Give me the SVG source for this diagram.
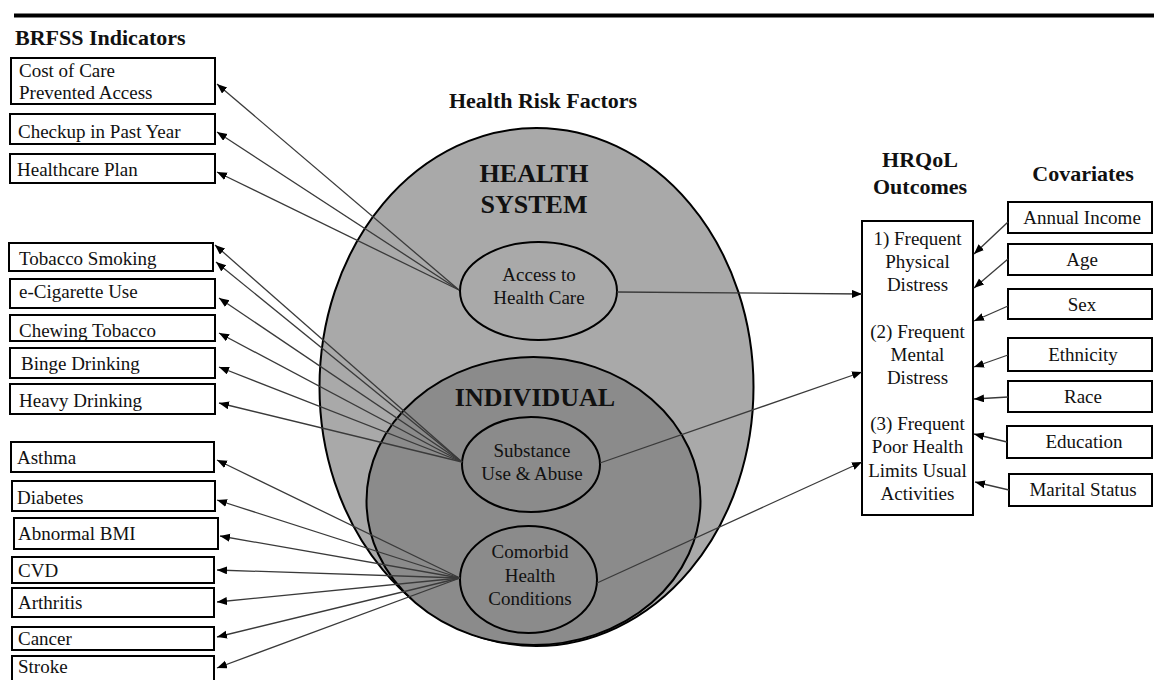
<svg xmlns="http://www.w3.org/2000/svg" width="1154" height="680" viewBox="0 0 1154 680" font-family="'Liberation Serif', 'DejaVu Serif', 'Times New Roman', serif">
<style>
.bx{fill:#fff;stroke:#000;stroke-width:2}
.t{font-family:'Liberation Serif','DejaVu Serif','Times New Roman',serif;font-size:19px;fill:#111}
.c{text-anchor:middle}
.h{font-family:'Liberation Serif','DejaVu Serif','Times New Roman',serif;font-size:22px;font-weight:bold;fill:#111}
.big{font-family:'Liberation Serif','DejaVu Serif','Times New Roman',serif;font-size:26px;font-weight:bold;fill:#111;text-anchor:middle}
.cn{fill:none;stroke:#3a3a3a;stroke-width:1.3;marker-end:url(#ah)}
.el{fill:none;stroke:#000;stroke-width:2}
</style>
<defs>
<marker id="ah" markerUnits="userSpaceOnUse" markerWidth="11" markerHeight="9" refX="10" refY="4" orient="auto">
<path d="M0,0 L10,4 L0,8 z" fill="#000"/>
</marker>
</defs>
<rect width="1154" height="680" fill="#fff"/>
<line x1="14" y1="15.5" x2="1154" y2="15.5" stroke="#000" stroke-width="4"/>
<text class="h" x="15" y="45">BRFSS Indicators</text>
<text class="h c" x="543" y="108">Health Risk Factors</text>
<text class="h c" x="920" y="167">HRQoL</text>
<text class="h c" x="920" y="194">Outcomes</text>
<text class="h c" x="1083" y="181">Covariates</text>

<g id="health-system">
<ellipse cx="536.5" cy="387" rx="217" ry="259" fill="#a9a9a9" stroke="#000" stroke-width="2"/>
<text class="big" x="534" y="182">HEALTH</text>
<text class="big" x="534" y="213">SYSTEM</text>
</g>
<g id="individual">
<ellipse cx="533.5" cy="501" rx="167" ry="144" fill="#8b8b8b" stroke="#000" stroke-width="2"/>
<text class="big" x="535" y="406">INDIVIDUAL</text>
</g>
<g id="access">
<ellipse class="el" cx="538.5" cy="291" rx="78.5" ry="49"/>
<text class="t c" x="539" y="281">Access to</text>
<text class="t c" x="539" y="304">Health Care</text>
</g>
<g id="substance">
<ellipse class="el" cx="531" cy="464.5" rx="69" ry="47.5"/>
<text class="t c" x="532" y="457">Substance</text>
<text class="t c" x="532" y="480">Use &amp; Abuse</text>
</g>
<g id="comorbid">
<ellipse class="el" cx="528.5" cy="579.5" rx="68.5" ry="53.5"/>
<text class="t c" x="530" y="558">Comorbid</text>
<text class="t c" x="530" y="582">Health</text>
<text class="t c" x="530" y="605">Conditions</text>
</g>

<g id="b-cost"><rect class="bx" x="11" y="58" width="204" height="46"/><text class="t" x="19" y="77">Cost of Care</text><text class="t" x="19" y="99">Prevented Access</text></g>
<g id="b-checkup"><rect class="bx" x="10" y="114" width="205" height="30"/><text class="t" x="18" y="138">Checkup in Past Year</text></g>
<g id="b-plan"><rect class="bx" x="10" y="154" width="205" height="29"/><text class="t" x="17" y="176">Healthcare Plan</text></g>
<g id="b-tobacco"><rect class="bx" x="9" y="243" width="204" height="28"/><text class="t" x="19" y="265">Tobacco Smoking</text></g>
<g id="b-ecig"><rect class="bx" x="10" y="279" width="205" height="29"/><text class="t" x="19" y="298">e-Cigarette Use</text></g>
<g id="b-chew"><rect class="bx" x="10" y="315" width="205" height="26"/><text class="t" x="19" y="337">Chewing Tobacco</text></g>
<g id="b-binge"><rect class="bx" x="10" y="348" width="205" height="30"/><text class="t" x="21" y="370">Binge Drinking</text></g>
<g id="b-heavy"><rect class="bx" x="10" y="384" width="205" height="30"/><text class="t" x="19" y="407">Heavy Drinking</text></g>
<g id="b-asthma"><rect class="bx" x="11" y="442" width="203" height="30"/><text class="t" x="17" y="464">Asthma</text></g>
<g id="b-diabetes"><rect class="bx" x="12" y="481" width="203" height="30"/><text class="t" x="17" y="504">Diabetes</text></g>
<g id="b-bmi"><rect class="bx" x="14" y="518" width="204" height="31"/><text class="t" x="18" y="540">Abnormal BMI</text></g>
<g id="b-cvd"><rect class="bx" x="12" y="557" width="202" height="26"/><text class="t" x="18" y="577">CVD</text></g>
<g id="b-arthritis"><rect class="bx" x="12" y="588" width="202" height="29"/><text class="t" x="18" y="609">Arthritis</text></g>
<g id="b-cancer"><rect class="bx" x="12" y="627" width="202" height="23"/><text class="t" x="18" y="645">Cancer</text></g>
<g id="b-stroke"><rect class="bx" x="12" y="656" width="202" height="28"/><text class="t" x="18" y="673">Stroke</text></g>

<g id="hrqol">
<rect class="bx" x="862" y="221" width="111" height="294"/>
<text class="t c" x="917.5" y="245">1) Frequent</text>
<text class="t c" x="917.5" y="268">Physical</text>
<text class="t c" x="917.5" y="291">Distress</text>
<text class="t c" x="917.5" y="338">(2) Frequent</text>
<text class="t c" x="917.5" y="361">Mental</text>
<text class="t c" x="917.5" y="384">Distress</text>
<text class="t c" x="917.5" y="430">(3) Frequent</text>
<text class="t c" x="917.5" y="453">Poor Health</text>
<text class="t c" x="917.5" y="477">Limits Usual</text>
<text class="t c" x="917.5" y="500">Activities</text>
</g>

<g id="c-income"><rect class="bx" x="1008" y="202" width="144" height="31"/><text class="t c" x="1082" y="224">Annual Income</text></g>
<g id="c-age"><rect class="bx" x="1008" y="244" width="144" height="31"/><text class="t c" x="1082" y="266">Age</text></g>
<g id="c-sex"><rect class="bx" x="1008" y="289" width="144" height="30"/><text class="t c" x="1082" y="311">Sex</text></g>
<g id="c-ethnicity"><rect class="bx" x="1008" y="338" width="144" height="33"/><text class="t c" x="1083" y="361">Ethnicity</text></g>
<g id="c-race"><rect class="bx" x="1008" y="381" width="144" height="31"/><text class="t c" x="1083" y="403">Race</text></g>
<g id="c-education"><rect class="bx" x="1007" y="426" width="145" height="32"/><text class="t c" x="1084" y="448">Education</text></g>
<g id="c-marital"><rect class="bx" x="1009" y="474" width="143" height="32"/><text class="t c" x="1083" y="496">Marital Status</text></g>

<g id="connectors">
<line class="cn" x1="459" y1="290" x2="217" y2="84"/>
<line class="cn" x1="459" y1="290" x2="217" y2="132"/>
<line class="cn" x1="459" y1="290" x2="217" y2="172"/>
<line class="cn" x1="462" y1="462" x2="215" y2="245"/>
<line class="cn" x1="462" y1="462" x2="216" y2="262"/>
<line class="cn" x1="462" y1="462" x2="219" y2="298"/>
<line class="cn" x1="462" y1="462" x2="219" y2="333"/>
<line class="cn" x1="462" y1="462" x2="219" y2="367"/>
<line class="cn" x1="462" y1="462" x2="219" y2="403"/>
<line class="cn" x1="460" y1="578" x2="217" y2="460"/>
<line class="cn" x1="460" y1="578" x2="217" y2="500"/>
<line class="cn" x1="460" y1="578" x2="220" y2="536"/>
<line class="cn" x1="460" y1="578" x2="217" y2="570"/>
<line class="cn" x1="460" y1="578" x2="217" y2="602"/>
<line class="cn" x1="460" y1="578" x2="217" y2="637"/>
<line class="cn" x1="460" y1="578" x2="217" y2="668"/>
<line class="cn" x1="617" y1="292" x2="862" y2="294"/>
<line class="cn" x1="600" y1="463" x2="862" y2="372"/>
<line class="cn" x1="597" y1="583" x2="862" y2="462"/>
<line class="cn" x1="1008" y1="222" x2="974" y2="254"/>
<line class="cn" x1="1008" y1="259" x2="974" y2="288"/>
<line class="cn" x1="1008" y1="306" x2="974" y2="321"/>
<line class="cn" x1="1008" y1="355" x2="974" y2="367"/>
<line class="cn" x1="1008" y1="397" x2="974" y2="399"/>
<line class="cn" x1="1007" y1="442" x2="974" y2="434"/>
<line class="cn" x1="1009" y1="490" x2="975" y2="482"/>
</g>
</svg>
